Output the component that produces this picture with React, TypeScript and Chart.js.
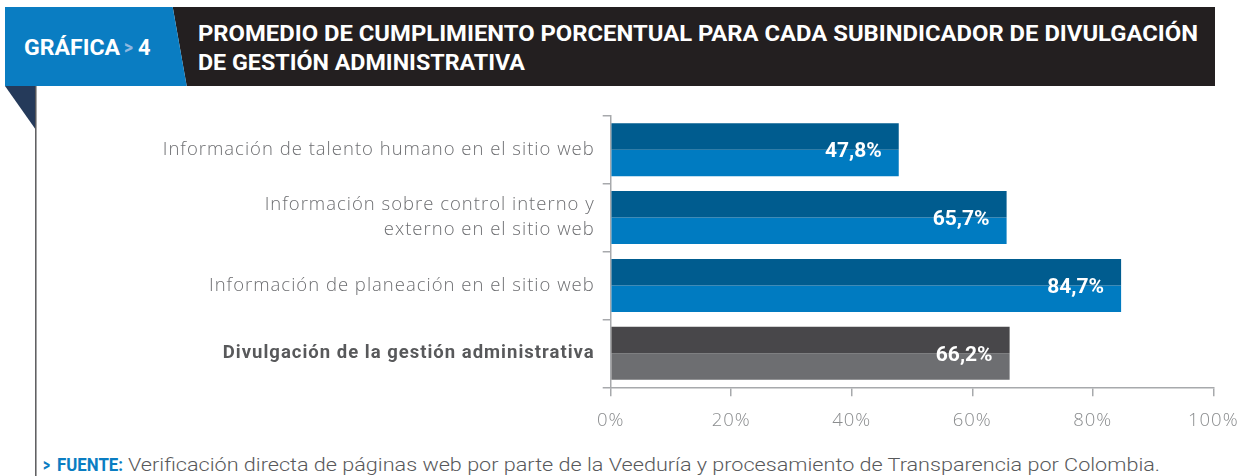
import React, { useEffect, useRef } from "react";
import { Chart, registerables } from "chart.js";

Chart.register(...registerables);

// ---- data ----
const categories: string[][] = [
  ["Información de talento humano en el sitio web"],
  ["Información sobre control interno y", "externo en el sitio web"],
  ["Información de planeación en el sitio web"],
  ["Divulgación de la gestión administrativa"],
];
const values: number[] = [47.8, 65.7, 84.7, 66.2];
const topColors: string[] = ["#005C8F", "#005C8F", "#005C8F", "#48474A"];
const bottomColors: string[] = ["#007BC1", "#007BC1", "#007BC1", "#6D6E71"];
const xMin = 0;
const xMax = 100;
const xStep = 20;
const chartNumber = "4";
const chartWord = "GRÁFICA";
const titleLines: string[] = [
  "PROMEDIO DE CUMPLIMIENTO PORCENTUAL PARA CADA SUBINDICADOR DE DIVULGACIÓN",
  "DE GESTIÓN ADMINISTRATIVA",
];
const sourceLabel = "FUENTE:";
const sourceText =
  "Verificación directa de páginas web por parte de la Veeduría y procesamiento de Transparencia por Colombia.";

const fmt = (v: number) => v.toFixed(1).replace(".", ",") + "%";

const AXIS_GRAY = "#A7A9AC";
const FONT = "Roboto, 'Open Sans', sans-serif";
const LABEL_FONT = "'Open Sans', Roboto, sans-serif";

const textSpacing = {
  id: "textSpacing",
  beforeDraw(chart: any) {
    (chart.ctx as any).letterSpacing = "1px";
  },
  afterDraw(chart: any) {
    (chart.ctx as any).letterSpacing = "0px";
  },
};

const valueLabels = {
  id: "valueLabels",
  afterDatasetsDraw(chart: any) {
    const ctx = chart.ctx;
    const m0 = chart.getDatasetMeta(0);
    const m1 = chart.getDatasetMeta(1);
    ctx.save();
    (ctx as any).letterSpacing = "0px";
    ctx.font = `700 21px ${FONT}`;
    ctx.fillStyle = "#FFFFFF";
    ctx.textAlign = "right";
    ctx.textBaseline = "middle";
    m0.data.forEach((el: any, i: number) => {
      const el1 = m1.data[i];
      const y = (el.y + el1.y) / 2;
      ctx.fillText(fmt(values[i]), el.x - 17, y + 2);
    });
    ctx.restore();
  },
};

export default function App() {
  const canvasRef = useRef<HTMLCanvasElement | null>(null);

  useEffect(() => {
    if (!canvasRef.current) return;
    const chart = new Chart(canvasRef.current, {
      type: "bar",
      data: {
        labels: categories,
        datasets: [
          {
            data: values,
            backgroundColor: topColors,
            borderWidth: 0,
            categoryPercentage: 0.78,
            barPercentage: 1,
          },
          {
            data: values,
            backgroundColor: bottomColors,
            borderWidth: 0,
            categoryPercentage: 0.78,
            barPercentage: 1,
          },
        ],
      },
      options: {
        indexAxis: "y",
        responsive: false,
        animation: false,
        devicePixelRatio: 1,
        layout: { padding: { left: 0, top: 115.7, right: 32.7, bottom: 38.7 } },
        plugins: {
          legend: { display: false },
          tooltip: { enabled: false },
          title: { display: false },
        },
        scales: {
          x: {
            type: "linear",
            min: xMin,
            max: xMax,
            afterFit: (s: any) => {
              s.height = 50;
              s.paddingLeft = 0;
              s.paddingRight = 0;
            },
            ticks: {
              stepSize: xStep,
              callback: (v: any) => v + "%",
              font: { family: LABEL_FONT, size: 18.5, weight: "300" },
              color: "#8A8C8E",
              padding: 13,
              maxRotation: 0,
            },
            grid: {
              drawOnChartArea: false,
              drawTicks: true,
              tickLength: 9,
              color: AXIS_GRAY,
              lineWidth: 1.5,
            },
            border: { display: true, color: AXIS_GRAY, width: 1.5 },
          },
          y: {
            type: "category",
            afterFit: (s: any) => {
              s.width = 610.7;
            },
            ticks: {
              font: (c: any) =>
                c.index === 3
                  ? { family: FONT, size: 18.5, weight: "700", lineHeight: 1.35 }
                  : { family: LABEL_FONT, size: 18.5, weight: "300", lineHeight: 1.35 },
              color: (c: any) => (c.index === 3 ? "#58595B" : "#6D6E71"),
              padding: 8,
            },
            grid: {
              offset: true,
              drawOnChartArea: false,
              drawTicks: true,
              tickLength: 8,
              color: AXIS_GRAY,
              lineWidth: 1.5,
            },
            border: { display: true, color: AXIS_GRAY, width: 1.5 },
          },
        },
      },
      plugins: [textSpacing, valueLabels],
    } as any);
    return () => chart.destroy();
  }, []);

  return (
    <div
      style={{
        position: "absolute",
        left: 0,
        top: 0,
        width: 1246,
        height: 476,
        background: "#FFFFFF",
        overflow: "hidden",
      }}
    >
      <svg
        width={1246}
        height={476}
        style={{ position: "absolute", left: 0, top: 0 }}
        fontFamily={FONT}
      >
        <polygon points="172.7,7 1215,7 1215,86 186.7,86" fill="#231F20" />
        <polygon points="5,7 172.7,7 186.7,86 5,86" fill="#0A7DC2" />
        <polygon points="5,86 36,86 36,130" fill="#253A5A" />
        <line x1={35.8} y1={86} x2={35.8} y2={476} stroke="#5A5A5C" strokeWidth={1.5} />
        <text x={24} y={55} fill="#FFFFFF" fontWeight={700} fontSize={22} textLength={96} lengthAdjust="spacingAndGlyphs">
          {chartWord}
        </text>
        <text x={124} y={54} fill="#8FB8E0" fontWeight={700} fontSize={20} textLength={9} lengthAdjust="spacingAndGlyphs">
          {">"}
        </text>
        <text x={138} y={55} fill="#FFFFFF" fontWeight={700} fontSize={22} textLength={12.5} lengthAdjust="spacingAndGlyphs">
          {chartNumber}
        </text>
        <text x={198} y={41} fill="#FFFFFF" fontWeight={700} fontSize={22} textLength={1000} lengthAdjust="spacingAndGlyphs">
          {titleLines[0]}
        </text>
        <text x={198} y={69.5} fill="#FFFFFF" fontWeight={700} fontSize={22} textLength={327} lengthAdjust="spacingAndGlyphs">
          {titleLines[1]}
        </text>
        <text x={43} y={470.7} fill="#0A7DC2" fontWeight={700} fontSize={18.5} textLength={7} lengthAdjust="spacingAndGlyphs">
          {">"}
        </text>
        <text x={57} y={470.7} fill="#0A7DC2" fontWeight={700} fontSize={18.5} textLength={66} lengthAdjust="spacingAndGlyphs">
          {sourceLabel}
        </text>
        <text x={128} y={470.7} fill="#58595B" fontWeight={300} fontSize={18.5} textLength={1032} lengthAdjust="spacingAndGlyphs">
          {sourceText}
        </text>
      </svg>
      <canvas
        ref={canvasRef}
        width={1246}
        height={476}
        style={{ position: "absolute", left: 0, top: 0, width: 1246, height: 476 }}
      />
    </div>
  );
}
